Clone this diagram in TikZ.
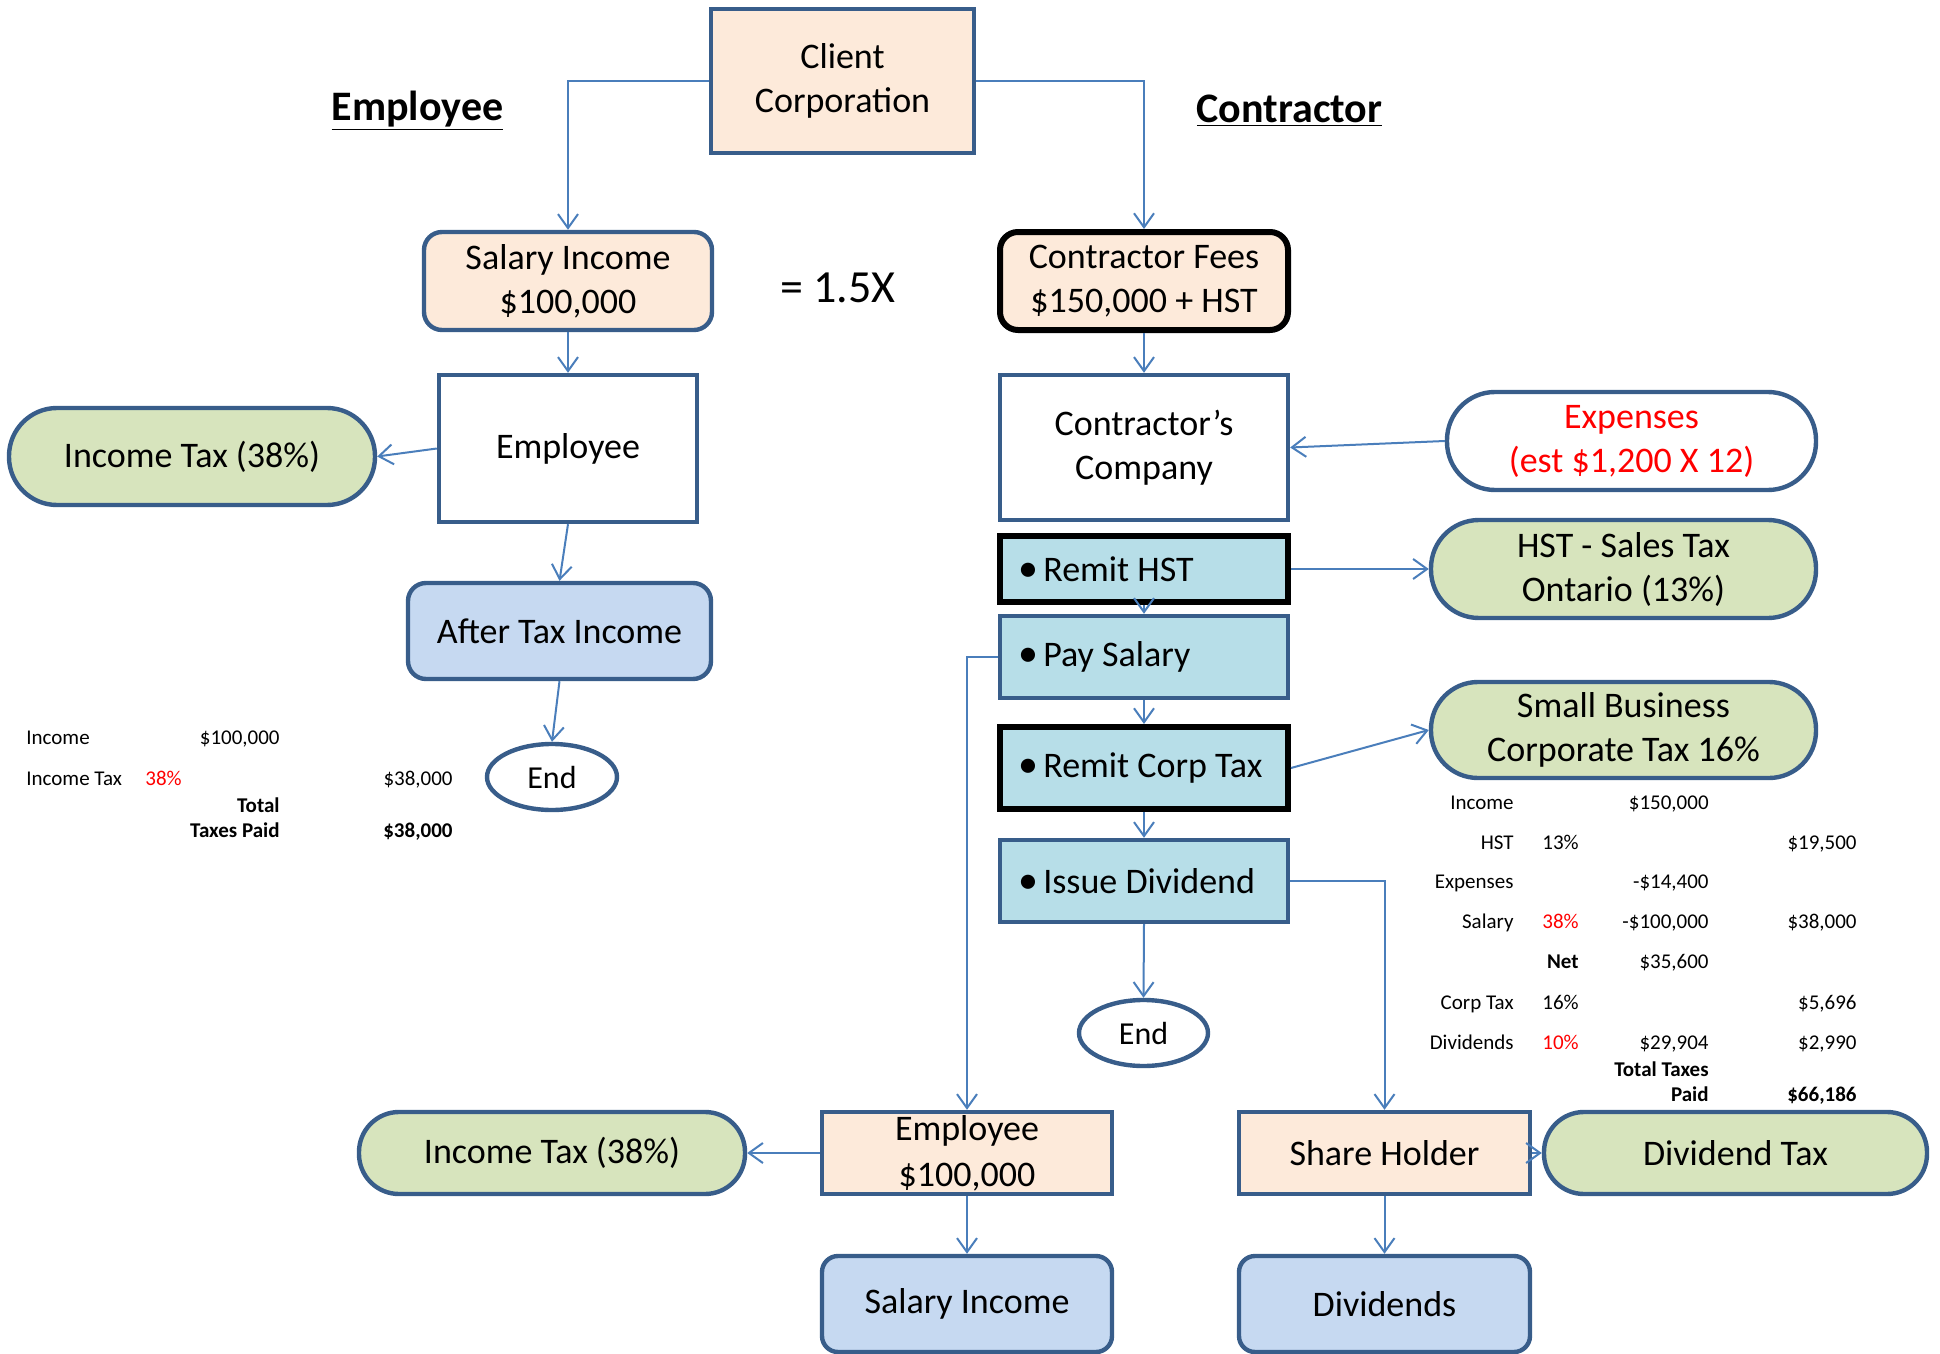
\documentclass[tikz,border=0pt]{standalone}
\usepackage{fontspec}
\setmainfont{Carlito}
\usetikzlibrary{arrows.meta,shapes.geometric}
\definecolor{bordblue}{HTML}{385D8A}
\definecolor{lineblue}{HTML}{4A7EBB}
\definecolor{peach}{HTML}{FDEADA}
\definecolor{pillgreen}{HTML}{D7E4BD}
\definecolor{lightblue}{HTML}{C6D9F1}
\definecolor{cyanbox}{HTML}{B7DEE8}
\definecolor{redtxt}{HTML}{FF0000}
\newcommand\mainfs{\fontsize{18}{22}\selectfont}
\newcommand\tabfs{\fontsize{10.5}{12}\selectfont}
\newcommand\headfs{\fontsize{21}{25}\selectfont}
\newcommand\finfs{\fontsize{16}{19}\selectfont}
\newcommand\bullitem[1]{\makebox[126pt][l]{{\fontsize{20}{22}\selectfont•}\hspace{0.15em}#1}}
\begin{document}
\begin{tikzpicture}[x=0.5pt,y=-0.5pt,
  box/.style={draw=bordblue, line width=2.2pt, inner sep=1pt, align=center, font=\mainfs},
  blackbox/.style={box, draw=black, line width=3pt},
  pill/.style={box, fill=pillgreen},
  bullbox/.style={box, fill=cyanbox, inner xsep=9pt, minimum width=144pt, minimum height=41pt},
  endell/.style={draw=bordblue, line width=2.2pt, ellipse, inner sep=0pt, fill=white, font=\finfs},
  conn/.style={draw=lineblue, line width=1pt, -{Straight Barb[length=7pt,width=10pt]}},
  tab/.style={inner sep=0pt, font=\tabfs},
  tabb/.style={tab, font=\tabfs\bfseries},
  heading/.style={inner sep=0pt, font=\headfs\bfseries}
]
\useasboundingbox (0,0) rectangle (1940,1354);

% headings
\node[heading] (hemp) at (417.5,111) {\underline{Employee}};
\node[heading] (hcon) at (1289.5,111) {\underline{Contractor}};
\node[inner sep=0pt, font=\fontsize{23}{27}\selectfont] (ratio) at (838,288) {= 1.5X};

% employee side
\node[box, fill=peach, minimum width=131.5pt, minimum height=72pt] (client) at (842.5,81) {Client\\Corporation};
\node[box, fill=peach, rounded corners=9pt, minimum width=144pt, minimum height=49pt] (salary) at (568,281) {Salary Income\\\$100,000};
\node[box, fill=white, minimum width=129pt, minimum height=73.5pt] (emp) at (568,448.5) {Employee};
\node[pill, rounded corners=24pt, minimum width=183pt, minimum height=48.5pt] (itaxa) at (192,456.5) {Income Tax (38\%)};
\node[box, fill=lightblue, rounded corners=9pt, minimum width=151.5pt, minimum height=48pt] (after) at (559.5,631) {After Tax Income};
\node[endell, minimum width=65pt, minimum height=33pt] (enda) at (552,777) {End};

% contractor side
\node[blackbox, fill=peach, rounded corners=9pt, minimum width=144pt, minimum height=49pt] (fees) at (1144,281) {Contractor Fees\\\$150,000 + HST};
\node[box, fill=white, minimum width=144pt, minimum height=72.5pt] (comp) at (1144,447.5) {Contractor’s\\Company};
\node[box, fill=white, rounded corners=24pt, minimum width=184.5pt, minimum height=49pt, text=redtxt] (exp) at (1631.5,441) {Expenses\\(est \$1,200 X 12)};
\node[bullbox, draw=black, line width=3pt, minimum height=33pt] (rhst) at (1144,569) {\bullitem{Remit HST}};
\node[pill, rounded corners=24pt, minimum width=192.5pt, minimum height=49pt] (hst) at (1623.5,569) {HST - Sales Tax\\Ontario (13\%)};
\node[bullbox] (pay) at (1144,657) {\bullitem{Pay Salary}};
\node[bullbox, draw=black, line width=3pt] (rcorp) at (1144,768) {\bullitem{Remit Corp Tax}};
\node[pill, rounded corners=23.5pt, minimum width=192.5pt, minimum height=48pt] (sbiz) at (1623.5,730) {Small Business\\Corporate Tax 16\%};
\node[bullbox] (issue) at (1144,881) {\bullitem{Issue Dividend}};
\node[endell, minimum width=64.5pt, minimum height=33pt] (endb) at (1143.5,1033) {End};

% bottom row
\node[box, fill=peach, inner ysep=0pt, minimum width=145pt, minimum height=41pt, font=\fontsize{18}{23}\selectfont] (empb) at (967,1153) {Employee\\\$100,000};
\node[pill, rounded corners=20pt, minimum width=193pt, minimum height=41pt] (itaxb) at (552,1153) {Income Tax (38\%)};
\node[box, fill=peach, minimum width=145.5pt, minimum height=41pt] (share) at (1384.5,1153) {Share Holder};
\node[pill, rounded corners=20pt, minimum width=191.5pt, minimum height=41pt] (divtax) at (1735.5,1153) {Dividend Tax};
\node[box, fill=lightblue, rounded corners=8pt, minimum width=145pt, minimum height=48pt] (salb) at (967,1304) {Salary Income};
\node[box, fill=lightblue, rounded corners=8pt, minimum width=145.5pt, minimum height=48pt] (divs) at (1384.5,1304) {Dividends};

% connectors
\draw[conn] (client.west) -| (salary.north);
\draw[conn] (client.east) -| (fees.north);
\draw[conn] (salary.south) -- (emp.north);
\draw[conn] (emp.west) -- (itaxa.east);
\draw[conn] (emp.south) -- (after.north);
\draw[conn] (after.south) -- (enda.north);
\draw[conn] (fees.south) -- (comp.north);
\draw[conn] (exp.west) -- (comp.east);
\draw[conn] (rhst.east) -- (hst.west);
\draw[conn] (rhst.south) -- (pay.north);
\draw[conn] (pay.south) -- (rcorp.north);
\draw[conn] (rcorp.east) -- (sbiz.west);
\draw[conn] (rcorp.south) -- (issue.north);
\draw[conn] (issue.south) -- (endb.north);
\draw[conn] (issue.east) -| (share.north);
\draw[conn] (pay.west) -| (empb.north);
\draw[conn] (empb.west) -- (itaxb.east);
\draw[conn] (empb.south) -- (salb.north);
\draw[conn] (share.south) -- (divs.north);
\draw[conn] (share.east) -- (divtax.west);

% left table
\node[tab, anchor=mid west] (la1) at (26,740) {Income};
\node[tab, anchor=mid east] (la2) at (280,740) {\$100,000};
\node[tab, anchor=mid west] (lb1) at (26,781) {Income Tax};
\node[tab, anchor=mid west, text=redtxt] (lb2) at (145,781) {38\%};
\node[tab, anchor=mid east] (lb3) at (453,781) {\$38,000};
\node[tabb, anchor=mid east] (lc1) at (280,808) {Total};
\node[tabb, anchor=mid east] (ld1) at (280,833) {Taxes Paid};
\node[tabb, anchor=mid east] (ld2) at (453,833) {\$38,000};

% right table
\node[tab, anchor=mid east] (ra1) at (1514,805) {Income};
\node[tab, anchor=mid east] (ra3) at (1709,805) {\$150,000};
\node[tab, anchor=mid east] (rb1) at (1514,845) {HST};
\node[tab, anchor=mid west] (rb2) at (1542,845) {13\%};
\node[tab, anchor=mid east] (rb4) at (1857,845) {\$19,500};
\node[tab, anchor=mid east] (rc1) at (1514,884) {Expenses};
\node[tab, anchor=mid east] (rc3) at (1709,884) {-\$14,400};
\node[tab, anchor=mid east] (rd1) at (1514,924) {Salary};
\node[tab, anchor=mid west, text=redtxt] (rd2) at (1542,924) {38\%};
\node[tab, anchor=mid east] (rd3) at (1709,924) {-\$100,000};
\node[tab, anchor=mid east] (rd4) at (1857,924) {\$38,000};
\node[tabb, anchor=mid east] (re2) at (1579,964) {Net};
\node[tab, anchor=mid east] (re3) at (1709,964) {\$35,600};
\node[tab, anchor=mid east] (rf1) at (1514,1005) {Corp Tax};
\node[tab, anchor=mid west] (rf2) at (1542,1005) {16\%};
\node[tab, anchor=mid east] (rf4) at (1857,1005) {\$5,696};
\node[tab, anchor=mid east] (rg1) at (1514,1045) {Dividends};
\node[tab, anchor=mid west, text=redtxt] (rg2) at (1542,1045) {10\%};
\node[tab, anchor=mid east] (rg3) at (1709,1045) {\$29,904};
\node[tab, anchor=mid east] (rg4) at (1857,1045) {\$2,990};
\node[tabb, anchor=mid east] (rh3) at (1709,1072) {Total Taxes};
\node[tabb, anchor=mid east] (ri3) at (1709,1097) {Paid};
\node[tabb, anchor=mid east] (ri4) at (1857,1097) {\$66,186};
\end{tikzpicture}
\end{document}
